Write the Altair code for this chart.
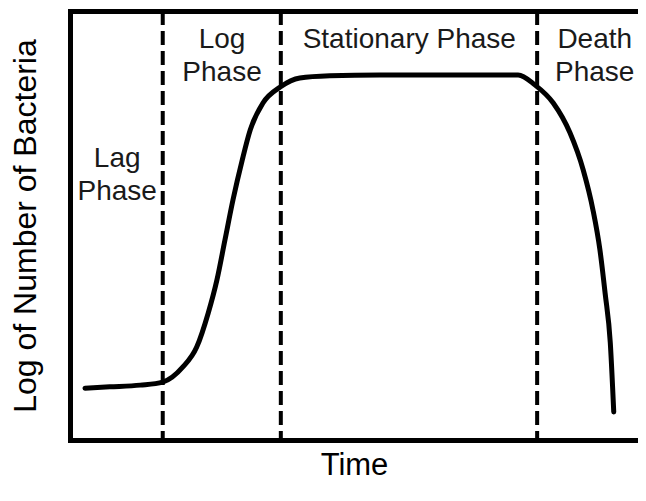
import altair as alt
import pandas as pd

# Growth curve (time units, log number of bacteria)
curve_t = [0.26, 0.69, 1.22, 1.61, 1.96, 2.20, 2.40, 2.55, 2.69, 2.83, 2.99, 3.13,
           3.35, 3.65, 3.99, 4.51, 5.38, 7.12, 7.78, 8.07, 8.39, 8.68, 8.91, 9.08,
           9.20, 9.29, 9.38, 9.44]
curve_v = [1.20, 1.23, 1.27, 1.34, 1.69, 2.15, 2.94, 3.70, 4.63, 5.56, 6.48, 7.18,
           7.80, 8.17, 8.38, 8.43, 8.45, 8.45, 8.45, 8.22, 7.80, 7.11, 6.25, 5.32,
           4.40, 3.40, 2.25, 0.65]

# Phase boundaries
boundary_t = [1.61, 3.66, 8.11]

# Phase labels (position = centre of the first line)
label_text = ["Lag\nPhase", "Log\nPhase", "Stationary Phase", "Death\nPhase"]
label_t = [0.82, 2.64, 5.89, 9.11]
label_v = [6.50, 9.26, 9.26, 9.26]

X_DOMAIN = [0, 9.861]
Y_DOMAIN = [0, 9.93]
FONT = "Liberation Sans"

curve_df = pd.DataFrame({"t": curve_t, "v": curve_v})
bound_df = pd.DataFrame({"t": boundary_t})
label_df = pd.DataFrame({"t": label_t, "v": label_v, "text": label_text})

xs = alt.Scale(domain=X_DOMAIN, nice=False, zero=False)
ys = alt.Scale(domain=Y_DOMAIN, nice=False, zero=False)

axis_common = dict(
    labels=False, ticks=False, grid=False,
    domainColor="black", domainWidth=5, domainCap="square",
    titleFont=FONT, titleFontWeight="normal", titleColor="black",
)

y_axis = alt.Axis(title="Log of Number of Bacteria", orient="left", titlePadding=28,
                  titleFontSize=32, **axis_common)

line = alt.Chart(curve_df).mark_line(
    color="black", strokeWidth=5, interpolate="monotone", strokeCap="round"
).encode(
    x=alt.X("t:Q", scale=xs, axis=alt.Axis(title="Time", orient="bottom", titlePadding=10,
                                           titleFontSize=31, **axis_common)),
    y=alt.Y("v:Q", scale=ys, axis=y_axis),
)

rules = alt.Chart(bound_df).mark_rule(
    color="black", strokeWidth=4, strokeDash=[14, 6]
).encode(
    x=alt.X("t:Q", scale=xs, axis=alt.Axis(title=None, orient="top", **axis_common)),
)

labels = alt.Chart(label_df).mark_text(
    font=FONT, fontSize=28, lineBreak="\n", lineHeight=33,
    align="center", baseline="middle", color="#1a1a1a"
).encode(
    x=alt.X("t:Q", scale=xs, axis=None),
    y=alt.Y("v:Q", scale=ys, axis=y_axis),
    text="text:N",
)

chart = alt.layer(rules, line, labels).resolve_axis(x="independent").properties(
    width=568, height=429,
    autosize=alt.AutoSizeParams(type="none"),
    padding={"left": 62, "top": 3, "right": 0, "bottom": 40},
).configure_view(stroke=None).configure(background="white")

chart.save("out.html", embed_options={"renderer": "svg", "actions": False})
